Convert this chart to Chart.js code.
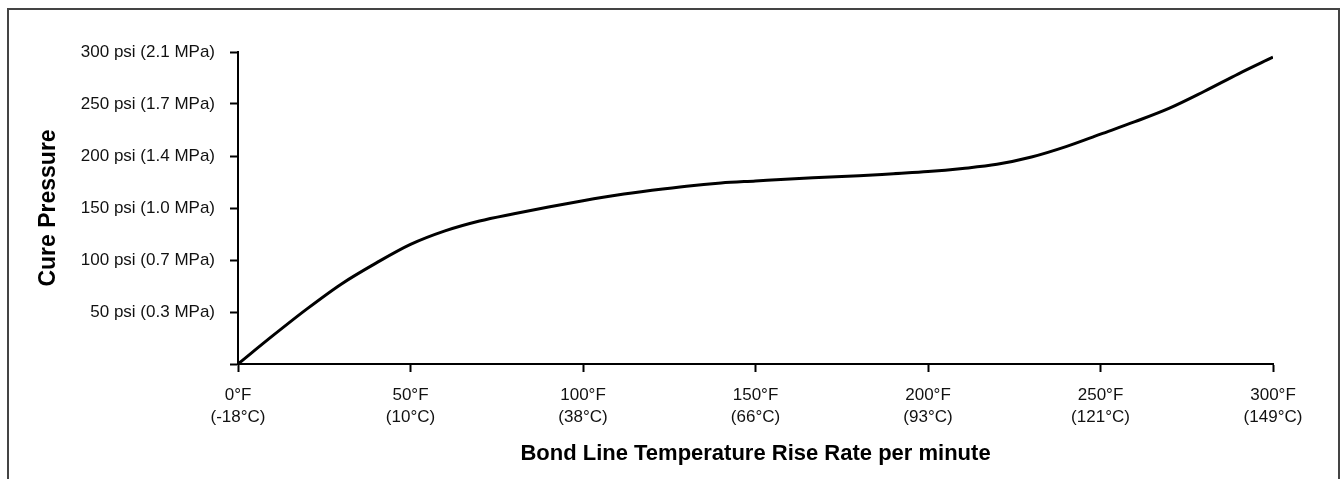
<!DOCTYPE html>
<html>
<head>
<meta charset="utf-8">
<title>Cure Pressure vs Bond Line Temperature Rise Rate</title>
<script src="https://cdn.jsdelivr.net/npm/chart.js@4.4.1/dist/chart.umd.min.js"></script>
<style>
  html, body { margin: 0; padding: 0; background: #fff; }
  #wrap { position: relative; width: 1340px; height: 479px; overflow: hidden; }
  #frame {
    position: absolute; left: 7px; top: 8px; width: 1329px; height: 500px;
    border: 2px solid #444; border-bottom: none; pointer-events: none;
  }
  canvas { position: absolute; left: 0; top: 0; }
</style>
</head>
<body>
<div id="wrap">
  <canvas id="chart" width="1340" height="479"></canvas>
  <div id="frame"></div>
</div>
<script>
// Temperature rise rate (°F per minute) and the cure pressure (psi)
const tempF = [0, 10, 20, 30, 40, 50, 60, 70, 80, 90, 100, 110, 120, 130, 140, 150,
  160, 170, 180, 190, 200, 210, 220, 230, 240, 250, 260, 270, 280, 290, 300];
const pressurePsi = [0, 27, 53, 77, 97, 115, 128, 137.5, 144.5, 151, 157, 162.5, 167, 171, 174, 176,
  178, 179.5, 181, 183, 185, 188, 192, 199, 209, 221, 233, 246, 262, 279, 295];

// Axis tick labels
const xTickF = ['0°F', '50°F', '100°F', '150°F', '200°F', '250°F', '300°F'];
const xTickC = ['(-18°C)', '(10°C)', '(38°C)', '(66°C)', '(93°C)', '(121°C)', '(149°C)'];
const yTickLabels = ['', '50 psi (0.3 MPa)', '100 psi (0.7 MPa)', '150 psi (1.0 MPa)',
  '200 psi (1.4 MPa)', '250 psi (1.7 MPa)', '300 psi (2.1 MPa)'];

const FONT = 'Arial, "Liberation Sans", Helvetica, sans-serif';
const INK = '#000';

const points = tempF.map((x, i) => ({ x, y: pressurePsi[i] }));

new Chart(document.getElementById('chart'), {
  type: 'line',
  data: {
    datasets: [{
      label: 'Cure pressure',
      data: points,
      borderColor: INK,
      borderWidth: 3,
      pointRadius: 0,
      fill: false,
      cubicInterpolationMode: 'monotone',
    }],
  },
  options: {
    responsive: false,
    animation: false,
    devicePixelRatio: 1,
    layout: { padding: { left: 0, top: 52, right: 67, bottom: 0 } },
    plugins: {
      legend: { display: false },
      tooltip: { enabled: false },
    },
    scales: {
      x: {
        type: 'linear',
        min: 0,
        max: 300,
        afterFit: (scale) => { scale.height = 115; },
        border: { color: INK, width: 2 },
        grid: {
          drawOnChartArea: false,
          drawTicks: true,
          tickLength: 8,
          tickWidth: 2,
          tickColor: INK,
        },
        ticks: {
          stepSize: 50,
          padding: 13,
          maxRotation: 0,
          color: '#111',
          font: { family: FONT, size: 17, lineHeight: 1.25 },
          callback: (value, index) => [xTickF[index], xTickC[index]],
        },
        title: {
          display: true,
          text: 'Bond Line Temperature Rise Rate per minute',
          color: INK,
          font: { family: FONT, size: 22, weight: 'bold', lineHeight: 1.2 },
          padding: { top: 0, bottom: 12 },
        },
      },
      y: {
        type: 'linear',
        min: 0,
        max: 300,
        afterFit: (scale) => { scale.width = 238; },
        border: { color: INK, width: 2 },
        grid: {
          drawOnChartArea: false,
          drawTicks: true,
          tickLength: 8,
          tickWidth: 2,
          tickColor: INK,
        },
        ticks: {
          stepSize: 50,
          padding: 15,
          color: '#111',
          font: { family: FONT, size: 17 },
          callback: (value, index) => yTickLabels[index],
        },
        title: {
          display: true,
          text: 'Cure Pressure',
          color: INK,
          font: { family: FONT, size: 23, weight: 'bold', lineHeight: 1.2 },
          padding: { top: 35, bottom: 0 },
        },
      },
    },
  },
});
</script>
</body>
</html>
